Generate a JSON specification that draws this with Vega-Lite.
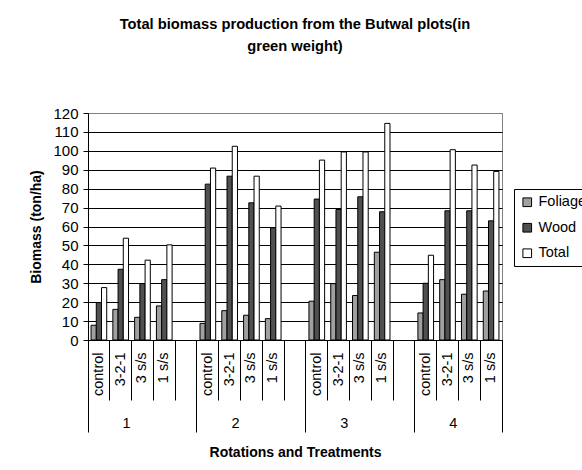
{
  "$schema": "https://vega.github.io/schema/vega-lite/v6.json",
  "width": 414,
  "height": 227,
  "padding": {"left": 29, "top": 17, "right": 0, "bottom": 0},
  "title": {
    "text": ["Total biomass production from the Butwal plots(in", "green weight)"],
    "fontSize": 14.7,
    "fontWeight": "bold",
    "lineHeight": 22,
    "anchor": "middle",
    "frame": "group",
    "offset": 52,
    "color": "black"
  },
  "data": {
    "values": [
      {"rotation": "1", "treatment": "control", "cat": "1|control", "Foliage": 7.8, "Wood": 19.8, "Total": 27.7},
      {"rotation": "1", "treatment": "3-2-1", "cat": "1|3-2-1", "Foliage": 16.2, "Wood": 37.4, "Total": 53.8},
      {"rotation": "1", "treatment": "3 s/s", "cat": "1|3 s/s", "Foliage": 12.0, "Wood": 29.8, "Total": 42.2},
      {"rotation": "1", "treatment": "1 s/s", "cat": "1|1 s/s", "Foliage": 18.0, "Wood": 31.9, "Total": 50.3},
      {"rotation": "2", "treatment": "control", "cat": "2|control", "Foliage": 8.8, "Wood": 82.4, "Total": 90.9},
      {"rotation": "2", "treatment": "3-2-1", "cat": "2|3-2-1", "Foliage": 15.5, "Wood": 86.6, "Total": 102.4},
      {"rotation": "2", "treatment": "3 s/s", "cat": "2|3 s/s", "Foliage": 13.1, "Wood": 72.5, "Total": 86.6},
      {"rotation": "2", "treatment": "1 s/s", "cat": "2|1 s/s", "Foliage": 11.3, "Wood": 59.3, "Total": 70.8},
      {"rotation": "3", "treatment": "control", "cat": "3|control", "Foliage": 20.5, "Wood": 74.5, "Total": 95.1},
      {"rotation": "3", "treatment": "3-2-1", "cat": "3|3-2-1", "Foliage": 29.8, "Wood": 69.0, "Total": 99.4},
      {"rotation": "3", "treatment": "3 s/s", "cat": "3|3 s/s", "Foliage": 23.5, "Wood": 75.7, "Total": 99.4},
      {"rotation": "3", "treatment": "1 s/s", "cat": "3|1 s/s", "Foliage": 46.4, "Wood": 67.8, "Total": 114.5},
      {"rotation": "4", "treatment": "control", "cat": "4|control", "Foliage": 14.3, "Wood": 30.0, "Total": 44.8},
      {"rotation": "4", "treatment": "3-2-1", "cat": "4|3-2-1", "Foliage": 31.9, "Wood": 68.3, "Total": 100.6},
      {"rotation": "4", "treatment": "3 s/s", "cat": "4|3 s/s", "Foliage": 24.2, "Wood": 68.3, "Total": 92.5},
      {"rotation": "4", "treatment": "1 s/s", "cat": "4|1 s/s", "Foliage": 25.9, "Wood": 63.0, "Total": 89.1}
    ]
  },
  "transform": [{"fold": ["Foliage", "Wood", "Total"], "as": ["series", "biomass"]}],
  "layer": [
    {
      "mark": {"type": "bar", "stroke": "black", "strokeWidth": 1},
      "encoding": {
        "x": {
          "field": "cat",
          "type": "nominal",
          "scale": {
            "domain": ["1|control", "1|3-2-1", "1|3 s/s", "1|1 s/s", "1|", "2|control", "2|3-2-1", "2|3 s/s", "2|1 s/s", "2|", "3|control", "3|3-2-1", "3|3 s/s", "3|1 s/s", "3|", "4|control", "4|3-2-1", "4|3 s/s", "4|1 s/s"],
            "paddingInner": 0,
            "paddingOuter": 0
          },
          "axis": {
            "orient": "bottom",
            "title": null,
            "grid": false,
            "bandPosition": 0,
            "labelExpr": "split(datum.value, '|')[1]",
            "labelAngle": -90,
            "labelAlign": "right",
            "labelBaseline": "middle",
            "labelOffset": 0,
            "labelPadding": {"condition": {"test": "indexof(datum.value, 'control') >= 0", "value": -80}, "value": -48},
            "labelFontSize": 14.5,
            "labelColor": "black",
            "tickColor": "black",
            "tickSize": {"condition": {"test": "indexof(datum.value, 'control') >= 0", "value": 92}, "value": 60},
            "domainColor": "black",
            "labelOverlap": false
          }
        },
        "xOffset": {
          "field": "series",
          "type": "nominal",
          "sort": ["Foliage", "Wood", "Total"],
          "scale": {"paddingInner": 0, "paddingOuter": 0.585}
        },
        "y": {
          "field": "biomass",
          "type": "quantitative",
          "scale": {"domain": [0, 120]},
          "axis": {
            "title": "Biomass (ton/ha)",
            "titleFontSize": 14,
            "titleFontWeight": "bold",
            "titleColor": "black",
            "titlePadding": 9,
            "values": [0, 10, 20, 30, 40, 50, 60, 70, 80, 90, 100, 110, 120],
            "labelOverlap": false,
            "grid": true,
            "gridColor": {"condition": {"test": "datum.value == 120", "value": "#808080"}, "value": "black"},
            "gridOpacity": 1,
            "tickSize": 5,
            "tickColor": "black",
            "domainColor": "black",
            "labelFontSize": 15,
            "labelColor": "black",
            "labelPadding": 5
          }
        },
        "color": {
          "field": "series",
          "type": "nominal",
          "scale": {"domain": ["Foliage", "Wood", "Total"], "range": ["#a0a0a0", "#505050", "#ffffff"]},
          "legend": {
            "title": null,
            "orient": "none",
            "legendX": 426,
            "legendY": 76,
            "strokeColor": "black",
            "fillColor": "white",
            "padding": 6,
            "symbolType": "square",
            "symbolSize": 75,
            "symbolStrokeColor": "black",
            "symbolStrokeWidth": 1,
            "labelFontSize": 14.5,
            "labelColor": "black",
            "rowPadding": 10.5
          }
        }
      }
    },
    {
      "mark": {"type": "point", "opacity": 0},
      "encoding": {
        "x": {
          "field": "cat",
          "type": "nominal",
          "scale": {
            "domain": ["1|control", "1|3-2-1", "1|3 s/s", "1|1 s/s", "1|", "2|control", "2|3-2-1", "2|3 s/s", "2|1 s/s", "2|", "3|control", "3|3-2-1", "3|3 s/s", "3|1 s/s", "3|", "4|control", "4|3-2-1", "4|3 s/s", "4|1 s/s"],
            "paddingInner": 0,
            "paddingOuter": 0
          },
          "axis": {
            "orient": "bottom",
            "title": null,
            "grid": false,
            "values": ["4|1 s/s"],
            "bandPosition": 1,
            "labels": false,
            "domain": false,
            "tickSize": 92,
            "tickColor": "black"
          }
        }
      }
    },
    {
      "mark": {"type": "point", "opacity": 0},
      "encoding": {
        "x": {
          "field": "cat",
          "type": "nominal",
          "scale": {
            "domain": ["1|control", "1|3-2-1", "1|3 s/s", "1|1 s/s", "1|", "2|control", "2|3-2-1", "2|3 s/s", "2|1 s/s", "2|", "3|control", "3|3-2-1", "3|3 s/s", "3|1 s/s", "3|", "4|control", "4|3-2-1", "4|3 s/s", "4|1 s/s"],
            "paddingInner": 0,
            "paddingOuter": 0
          },
          "axis": {
            "orient": "bottom",
            "grid": false,
            "values": ["1|3 s/s", "2|3 s/s", "3|3 s/s", "4|3 s/s"],
            "ticks": false,
            "domain": false,
            "labelExpr": "split(datum.value, '|')[0]",
            "labelAngle": 0,
            "labelAlign": "center",
            "labelBaseline": "top",
            "labelPadding": 76,
            "labelOffset": -16,
            "labelFontSize": 14.5,
            "labelColor": "black",
            "title": "Rotations and Treatments",
            "titleFontSize": 14,
            "titleFontWeight": "bold",
            "titleColor": "black",
            "titlePadding": 16
          }
        }
      }
    }
  ],
  "resolve": {"axis": {"x": "independent"}},
  "config": {
    "font": "Liberation Sans",
    "view": {"stroke": "#808080", "strokeWidth": 1},
    "background": "white"
  }
}
